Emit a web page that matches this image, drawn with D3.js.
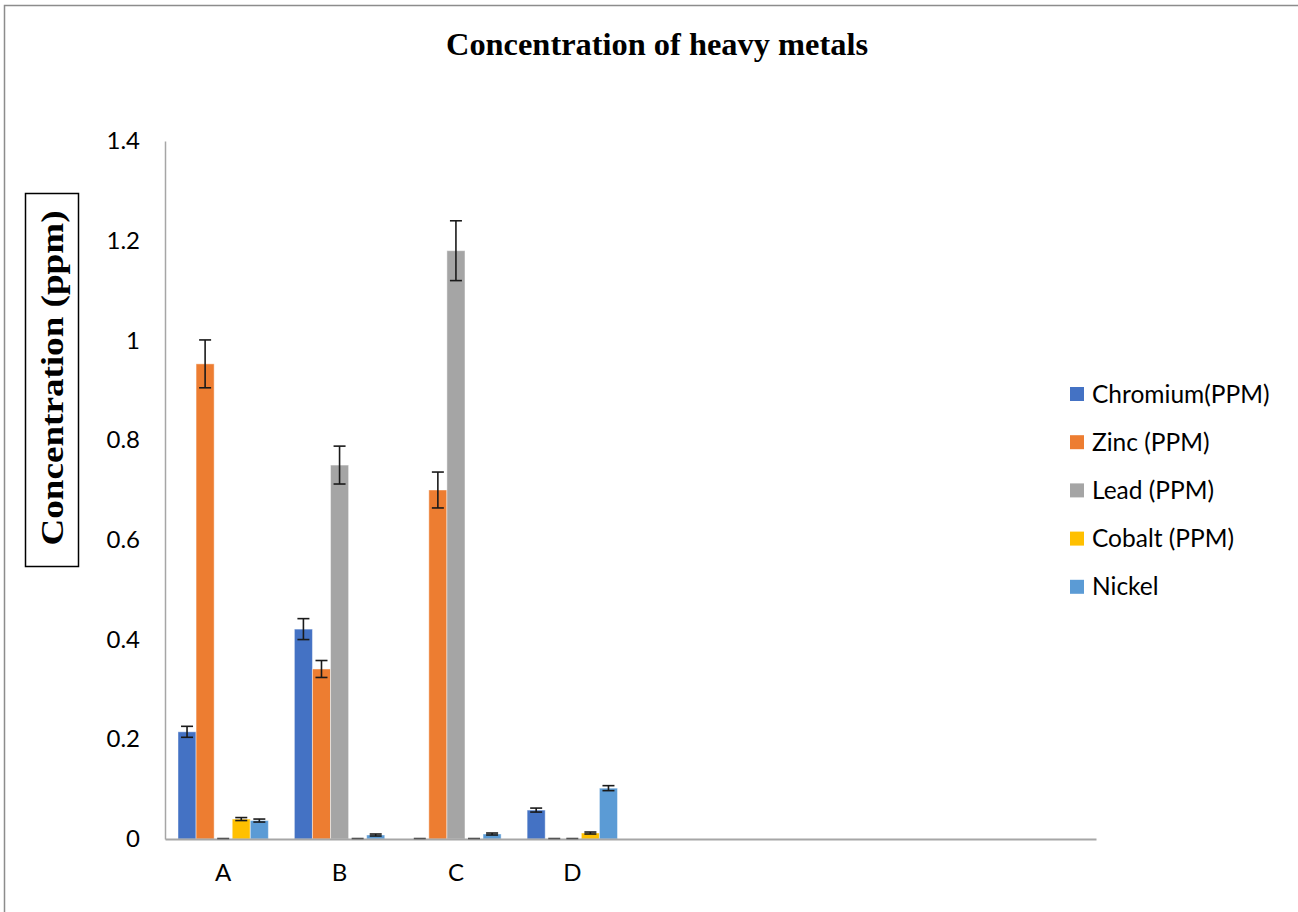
<!DOCTYPE html>
<html>
<head>
<meta charset="utf-8">
<script src="https://cdn.jsdelivr.net/npm/d3@7"></script>
<style>
  html, body { margin: 0; padding: 0; background: #fff; }
  svg { display: block; }
</style>
</head>
<body>
<svg id="chart" width="1298" height="912"></svg>
<script>
// ---- data ----
const categories = ["A", "B", "C", "D", "", "", "", ""];
const seriesNames = ["Chromium(PPM)", "Zinc (PPM)", "Lead (PPM)", "Cobalt (PPM)", "Nickel"];
const seriesColors = ["#4472C4", "#ED7D31", "#A5A5A5", "#FFC000", "#5B9BD5"];
const chromium = [0.215, 0.421, 0, 0.058];
const zinc     = [0.953, 0.341, 0.700, 0];
const lead     = [0, 0.750, 1.180, 0];
const cobalt   = [0.040, 0, 0, 0.012];
const nickel   = [0.037, 0.008, 0.010, 0.102];
const chromiumErr = [0.011, 0.021, 0, 0.004];
const zincErr     = [0.048, 0.017, 0.036, 0];
const leadErr     = [0, 0.038, 0.060, 0];
const cobaltErr   = [0.003, 0, 0, 0.002];
const nickelErr   = [0.003, 0.002, 0.002, 0.005];
const yTickValues = [0, 0.2, 0.4, 0.6, 0.8, 1, 1.2, 1.4];
const yTickLabels = ["0", "0.2", "0.4", "0.6", "0.8", "1", "1.2", "1.4"];
const titleText = "Concentration of heavy metals";
const yAxisTitle = "Concentration (ppm)";

const values = [chromium, zinc, lead, cobalt, nickel];
const errors = [chromiumErr, zincErr, leadErr, cobaltErr, nickelErr];

// ---- layout ----
const svg = d3.select("#chart");
const plot = { left: 165, right: 1096, top: 141, bottom: 839 };
const labelFont = "Lato, 'Open Sans', sans-serif";
const serifFont = "'Liberation Serif', 'Times New Roman', serif";

// outer frame
svg.append("rect")
  .attr("x", 4.5).attr("y", 5.5)
  .attr("width", 1310).attr("height", 930)
  .attr("fill", "none").attr("stroke", "#8c8c8c").attr("stroke-width", 1.5);

const x = d3.scaleBand()
  .domain(d3.range(categories.length))
  .range([plot.left, plot.right])
  .paddingInner(0).paddingOuter(0);

const groupPad = 13;
const xs = d3.scaleBand()
  .domain(seriesNames)
  .range([groupPad, x.bandwidth() - groupPad])
  .paddingInner(0);

const y = d3.scaleLinear().domain([0, 1.4]).range([plot.bottom, plot.top]);

// bars
const flat = [];
values.forEach((arr, si) => {
  arr.forEach((v, ci) => {
    flat.push({ series: seriesNames[si], color: seriesColors[si], ci, v, e: errors[si][ci] });
  });
});

svg.append("g").selectAll("rect")
  .data(flat.filter(d => d.v > 0))
  .join("rect")
  .attr("x", d => x(d.ci) + xs(d.series))
  .attr("y", d => y(d.v))
  .attr("width", xs.bandwidth())
  .attr("height", d => y(0) - y(d.v))
  .attr("fill", d => d.color)
  .attr("stroke", "#ffffff")
  .attr("stroke-opacity", 0.45)
  .attr("stroke-width", 1);

// axes
const yAxis = d3.axisLeft(y)
  .tickValues(yTickValues)
  .tickFormat((d, i) => yTickLabels[i])
  .tickSize(0)
  .tickPadding(25);
const gy = svg.append("g").attr("transform", `translate(${plot.left},0)`).call(yAxis);
gy.select(".domain").attr("stroke", "#a6a6a6").attr("stroke-width", 1.5);
gy.selectAll("text")
  .attr("font-family", labelFont)
  .attr("font-size", 24)
  .attr("fill", "#000");

const xAxis = d3.axisBottom(x)
  .tickFormat(i => categories[i])
  .tickSize(0)
  .tickPadding(25);
const gx = svg.append("g").attr("transform", `translate(0,${plot.bottom})`).call(xAxis);
gx.select(".domain").attr("stroke", "#a6a6a6").attr("stroke-width", 2);
gx.selectAll("text")
  .attr("font-family", labelFont)
  .attr("font-size", 24)
  .attr("fill", "#000");

// error bars
const cap = 6;
const eb = svg.append("g").attr("stroke", "#1a1a1a").attr("stroke-width", 1.6);
flat.forEach(d => {
  const cx = x(d.ci) + xs(d.series) + xs.bandwidth() / 2;
  const y1 = y(d.v + d.e), y2 = y(Math.max(0, d.v - d.e));
  if (d.v === 0 && d.e === 0) {
    eb.append("line").attr("x1", cx - cap).attr("x2", cx + cap)
      .attr("y1", y(0) - 0.5).attr("y2", y(0) - 0.5).attr("stroke", "#555");
    return;
  }
  eb.append("line").attr("x1", cx).attr("x2", cx).attr("y1", y1).attr("y2", y2);
  eb.append("line").attr("x1", cx - cap).attr("x2", cx + cap).attr("y1", y1).attr("y2", y1);
  eb.append("line").attr("x1", cx - cap).attr("x2", cx + cap).attr("y1", y2).attr("y2", y2);
});

// title
svg.append("text")
  .attr("x", 657).attr("y", 55)
  .attr("text-anchor", "middle")
  .attr("font-family", serifFont)
  .attr("font-weight", "bold")
  .attr("font-size", 32)
  .attr("textLength", 422)
  .attr("lengthAdjust", "spacingAndGlyphs")
  .attr("fill", "#000")
  .text(titleText);

// y axis title with box
svg.append("rect")
  .attr("x", 25.5).attr("y", 193.5).attr("width", 53).attr("height", 373)
  .attr("fill", "#fff").attr("stroke", "#000").attr("stroke-width", 1.5);
svg.append("text")
  .attr("transform", "translate(63,378) rotate(-90)")
  .attr("text-anchor", "middle")
  .attr("font-family", serifFont)
  .attr("font-weight", "bold")
  .attr("font-size", 31)
  .attr("textLength", 335)
  .attr("lengthAdjust", "spacingAndGlyphs")
  .attr("fill", "#000")
  .text(yAxisTitle);

// legend
const legend = svg.append("g");
const legendY0 = 394, legendStep = 48.2;
seriesNames.forEach((name, i) => {
  const g = legend.append("g").attr("transform", `translate(1070,${legendY0 + i * legendStep})`);
  g.append("rect").attr("x", 0).attr("y", -7).attr("width", 14).attr("height", 14).attr("fill", seriesColors[i]);
  g.append("text").attr("x", 22).attr("y", 0).attr("dy", "0.35em")
    .attr("font-family", labelFont)
    .attr("font-size", 24.5)
    .attr("fill", "#000")
    .text(name);
});
</script>
</body>
</html>
